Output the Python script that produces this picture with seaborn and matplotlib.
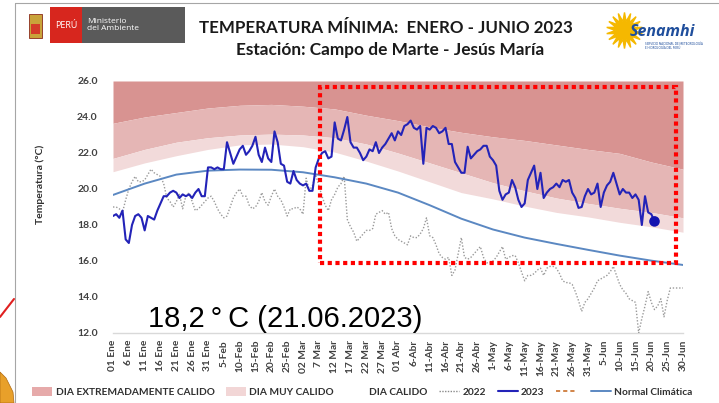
import numpy as np
import pandas as pd
import matplotlib
matplotlib.use("Agg")
import matplotlib.pyplot as plt
import seaborn as sns
from matplotlib.patches import Rectangle, Patch, Polygon
from matplotlib.lines import Line2D

# ---------------- data ----------------
tick_labels = ["01 Ene", "6 Ene", "11 Ene", "16 Ene", "21 Ene", "26 Ene", "31 Ene",
               "5-Feb", "10-Feb", "15-Feb", "20-Feb", "25-Feb", "02 Mar", "7 Mar",
               "12 Mar", "17 Mar", "22 Mar", "27 Mar", "01 Abr", "6-Abr", "11-Abr",
               "16-Abr", "21-Abr", "26-Abr", "1-May", "6-May", "11-May", "16-May",
               "21-May", "26-May", "31-May", "5-Jun", "10-Jun", "15-Jun", "20-Jun",
               "25-Jun", "30-Jun"]

t2023 = [
    18.5, 18.6, 18.4, 18.8, 17.2, 17.0, 18.0, 18.5, 18.6, 18.4,
    17.7, 18.5, 18.4, 18.3, 18.8, 19.2, 19.6, 19.6, 19.8, 19.9,
    19.8, 19.5, 19.7, 19.6, 19.7, 19.5, 19.8, 20.0, 19.6, 19.6,
    21.2, 21.2, 21.1, 21.2, 21.1, 21.1, 22.6, 22.0, 21.4, 21.8,
    22.2, 22.4, 21.9, 22.1, 22.4, 22.9, 21.9, 21.5, 22.3, 21.7,
    21.5, 23.2, 22.6, 21.4, 21.3, 20.4, 20.3, 21.0, 20.5, 20.3,
    20.2, 20.3, 19.9, 19.9, 21.2, 21.7, 22.0, 22.1, 21.7, 21.8,
    23.7, 22.8, 22.7, 23.3, 24.0, 22.6, 22.3, 22.3, 22.0, 21.6,
    21.8, 22.2, 22.1, 22.6, 22.0, 22.3, 22.5, 22.8, 23.1, 22.7,
    23.2, 23.0, 23.5, 23.6, 23.8, 23.4, 23.3, 23.5, 21.4, 23.4,
    23.3, 23.5, 23.4, 23.1, 23.2, 23.4, 22.5, 22.5, 21.5, 21.2,
    20.9, 20.9, 22.35, 21.7, 21.9, 22.1, 22.2, 22.4, 22.4, 21.8,
    21.6, 21.3, 19.9, 19.4, 19.7, 19.8, 20.5, 20.1, 19.4, 19.0,
    19.2, 20.5, 20.9, 21.3, 20.0, 20.9, 19.5, 19.8, 20.0, 20.1,
    20.3, 20.1, 20.5, 20.4, 20.5, 19.8, 19.5, 18.95, 19.0, 19.6,
    20.0, 19.7, 19.8, 20.3, 19.0, 19.8, 20.2, 20.4, 20.9, 20.3,
    19.7, 20.0, 19.8, 19.8, 19.5, 19.7, 19.4, 18.0, 19.6, 18.7,
    18.6, 18.2]

t2022 = [
    19.0, 19.0, 18.9, 18.7, 19.4, 20.0, 20.4, 20.7, 20.4, 20.4,
    20.5, 20.8, 21.1, 20.9, 20.8, 20.7, 20.3, 19.5, 19.3, 19.0,
    19.3, 19.7, 18.9, 19.6, 19.8, 19.3, 18.8, 18.9, 19.1, 19.3,
    19.5, 19.6, 19.3, 18.9, 18.6, 18.4, 18.5, 19.0, 19.5, 19.8,
    20.0, 19.6, 19.6, 19.1, 18.9, 19.0, 19.3, 19.8, 19.3, 19.1,
    19.6, 20.0, 19.6, 19.4, 19.0, 18.5, 18.9, 18.9, 19.0, 18.9,
    18.6, 20.6, 19.9, 20.2, 20.8, 20.2, 19.6, 19.1, 18.8, 19.4,
    19.7, 20.1, 20.3, 20.7, 18.3, 17.9, 17.6, 17.1, 17.3, 17.5,
    17.7, 17.7, 17.8, 18.6, 18.7, 18.8, 18.6, 18.7, 17.8, 17.4,
    17.2, 17.1, 17.0, 16.9, 17.4, 17.3, 17.3, 17.5, 17.8, 18.4,
    17.4, 17.3, 16.9, 16.4, 16.2, 16.1, 16.2, 15.2, 15.5, 16.4,
    17.3, 16.2, 16.1, 16.2, 16.4, 16.6, 16.8, 16.2, 15.9, 15.9,
    16.0, 16.2, 16.5, 16.8, 16.1, 16.2, 16.3, 16.3, 15.9, 15.4,
    14.9, 15.2, 15.2, 15.3, 15.5, 15.6, 15.2, 15.6, 15.7, 15.7,
    15.6, 15.3, 14.9, 14.8, 14.8, 14.7, 14.3, 13.8, 13.2, 13.7,
    13.9, 14.2, 14.5, 14.9, 15.0, 15.1, 15.2, 15.4, 15.7, 15.2,
    14.7, 14.4, 14.2, 13.9, 13.8, 13.7, 12.0, 12.8, 13.5, 14.3,
    13.7, 13.3, 13.5, 13.9, 12.9, 13.8, 14.5, 14.5, 14.5, 14.5,
    14.5]

# values every 10 days (day index 0, 10, ..., 180)
dias10 = list(range(0, 181, 10))
normal = [19.67, 20.3, 20.8, 21.02, 21.08, 21.07, 20.93, 20.65, 20.3, 19.8,
          19.1, 18.35, 17.75, 17.3, 16.95, 16.62, 16.3, 16.02, 15.78]
lim_calido = [20.96, 21.45, 21.85, 22.2, 22.45, 22.5, 22.35, 22.05, 21.55, 21.0,
              20.4, 19.8, 19.45, 19.05, 18.7, 18.45, 18.15, 17.9, 17.6]
lim_muy = [21.7, 22.2, 22.6, 22.85, 23.0, 23.05, 23.0, 22.85, 22.5, 22.0,
           21.45, 20.9, 20.35, 19.9, 19.5, 19.2, 18.93, 18.7, 18.4]
lim_extremo = [23.65, 24.0, 24.25, 24.5, 24.65, 24.7, 24.6, 24.45, 24.1, 23.8,
               23.45, 23.15, 22.9, 22.7, 22.45, 22.2, 21.98, 21.5, 21.1]

y_min, y_max = 12.0, 26.0
destacado_ini, destacado_fin = 65.3, 177.8     # highlighted period (day index)
destacado_bajo, destacado_alto = 15.9, 25.65

# ---------------- figure ----------------
sns.set_theme(style="white")
plt.rcParams["font.family"] = ["Lato", "DejaVu Sans"]

W, H = 719, 403
fig = plt.figure(figsize=(W / 100, H / 100), dpi=100)
ax = fig.add_axes([113 / W, 1 - 333 / H, (683 - 113) / W, (333 - 81) / H])

# bands
ax.fill_between(dias10, lim_extremo, y_max, color="#d89391", lw=0, zorder=1)
ax.fill_between(dias10, lim_muy, lim_extremo, color="#e5b6b5", lw=0, zorder=1)
ax.fill_between(dias10, lim_calido, lim_muy, color="#f2dada", lw=0, zorder=1)

df22 = pd.DataFrame({"dia": range(len(t2022)), "t": t2022})
df23 = pd.DataFrame({"dia": range(len(t2023)), "t": t2023})
dfn = pd.DataFrame({"dia": dias10, "t": normal})

sns.lineplot(data=df22, x="dia", y="t", ax=ax, color="#9a9a9a", lw=1.0,
             linestyle=(0, (1, 1.3)), zorder=3)
sns.lineplot(data=dfn, x="dia", y="t", ax=ax, color="#5b88c2", lw=1.4, zorder=3)
sns.lineplot(data=df23, x="dia", y="t", ax=ax, color="#2323b8", lw=1.5, zorder=4)
ax.scatter([df23["dia"].iloc[-1]], [df23["t"].iloc[-1]], s=58, color="#1414b0",
           zorder=5, edgecolor="none")

ax.add_patch(Rectangle((destacado_ini, destacado_bajo),
                       destacado_fin - destacado_ini, destacado_alto - destacado_bajo,
                       fill=False, ec="#ff0000", lw=3.0, ls=(0, (1.0, 0.85)),
                       zorder=6, clip_on=False))

ax.set_xlim(0, 180)
ax.set_ylim(y_min, y_max)
ax.set_xlabel("")
ax.set_ylabel("")
ax.set_xticks(range(0, 181, 5))
ax.set_xticklabels(tick_labels, rotation=90, fontsize=7.3, fontweight="bold",
                   color="#404040")
yt = np.arange(12, 26.1, 2)
ax.set_yticks(yt)
ax.set_yticklabels([f"{v:.1f}" for v in yt], fontsize=7.5, fontweight="bold",
                   color="#404040")
ax.tick_params(axis="y", length=0, pad=11)
ax.tick_params(axis="x", length=0, pad=5)
for s in ["top", "right", "left"]:
    ax.spines[s].set_visible(False)
ax.spines["bottom"].set_color("#d9d9d9")
ax.spines["bottom"].set_linewidth(1.0)
ax.spines["bottom"].set_zorder(2)

fig.text(40 / W, 1 - 184 / H, "Temperatura (°C)", rotation=90, ha="center",
         va="center", fontsize=7.5, fontweight="bold", color="#303030")

fig.text(148 / W, 1 - 327 / H, "18,2\u2009°\u2009C (21.06.2023)", ha="left",
         va="baseline", fontsize=21, family=["Liberation Sans", "DejaVu Sans"],
         color="black")

# titles
fig.text(386 / W, 1 - 28 / H, "TEMPERATURA MÍNIMA:  ENERO - JUNIO 2023",
         ha="center", va="center", fontsize=12.2, fontweight="bold", color="#1a1a1a")
fig.text(390 / W, 1 - 50 / H, "Estación: Campo de Marte - Jesús María",
         ha="center", va="center", fontsize=12.4, fontweight="bold", color="#1a1a1a")

# legend
handles = [Patch(facecolor="#e6aaaa", edgecolor="none"),
           Patch(facecolor="#f2d6d6", edgecolor="none"),
           Patch(facecolor="white", edgecolor="none"),
           Line2D([], [], color="#8a8a8a", lw=1.0, ls=(0, (1, 1))),
           Line2D([], [], color="#2323b8", lw=1.5),
           Line2D([], [], color="#c9702a", lw=1.2, ls=(0, (2.5, 1.8))),
           Line2D([], [], color="#5b88c2", lw=1.4)]
labels = ["DIA EXTREMADAMENTE CALIDO", "DIA MUY CALIDO", "DIA CALIDO", "2022",
          "2023", "", "Normal Climática"]
leg = fig.legend(handles, labels, loc="center", bbox_to_anchor=(0.504, 1 - 392 / H),
                 ncol=7, frameon=False, handlelength=2.0,
                 handleheight=0.9, handletextpad=0.3, columnspacing=1.15,
                 prop={"weight": "bold", "size": 7.3})
for t in leg.get_texts():
    t.set_color("#303030")

# decorative slide frame
fig.add_artist(Line2D([15 / W, 1], [1 - 3 / H, 1 - 3 / H], color="#a6a6a6", lw=0.8))
fig.add_artist(Line2D([15 / W, 15 / W], [0, 1 - 3 / H], color="#a6a6a6", lw=0.8))
fig.add_artist(Line2D([0, 14 / W], [1 - 317 / H, 1 - 299 / H], color="#e02020", lw=1.5))
fig.add_artist(Polygon([[0, 1 - 372 / H], [6 / W, 1 - 378 / H], [13 / W, 1 - 392 / H],
                        [14 / W, 0], [0, 0]], closed=True, facecolor="#e8a02a",
                       edgecolor="#b06a10", lw=0.5, transform=fig.transFigure))

# Ministerio del Ambiente logo
fig.add_artist(Rectangle((50 / W, 1 - 43 / H), 32 / W, 36 / H, facecolor="#d7261e",
                         edgecolor="none", transform=fig.transFigure))
fig.add_artist(Rectangle((82 / W, 1 - 43 / H), 103 / W, 36 / H, facecolor="#5a5a5a",
                         edgecolor="none", transform=fig.transFigure))
fig.text(66 / W, 1 - 25 / H, "PERÚ", ha="center", va="center", fontsize=6.5,
         color="white", family=["Open Sans", "DejaVu Sans"])
fig.text(87 / W, 1 - 25 / H, "Ministerio\ndel Ambiente", ha="left", va="center",
         fontsize=6, color="white", linespacing=0.95, family=["Open Sans", "DejaVu Sans"])
fig.add_artist(Rectangle((29 / W, 1 - 38 / H), 13 / W, 24 / H, facecolor="#c9a33a",
                         edgecolor="#8a2a1a", lw=0.6, transform=fig.transFigure))
fig.add_artist(Rectangle((31 / W, 1 - 34 / H), 9 / W, 10 / H, facecolor="#d43a2a",
                         edgecolor="none", transform=fig.transFigure))

# Senamhi logo
fig.add_artist(Line2D([624 / W], [1 - 30 / H], marker=(18, 1, 0), markersize=26,
                      color="#f5b800", markeredgecolor="#f5b800", lw=0,
                      transform=fig.transFigure))
fig.text(662 / W, 1 - 32 / H, "Senamhi", ha="center", va="center", fontsize=11.5,
         fontweight="bold", style="italic", color="#1f4e9c",
         family=["Open Sans", "DejaVu Sans"])
fig.text(645 / W, 1 - 46 / H, "SERVICIO NACIONAL DE METEOROLOGÍA\nE HIDROLOGÍA DEL PERÚ",
         ha="left", va="center", fontsize=2.2, color="#1f4e9c", linespacing=1.0)

fig.savefig("out.png", dpi=100)
